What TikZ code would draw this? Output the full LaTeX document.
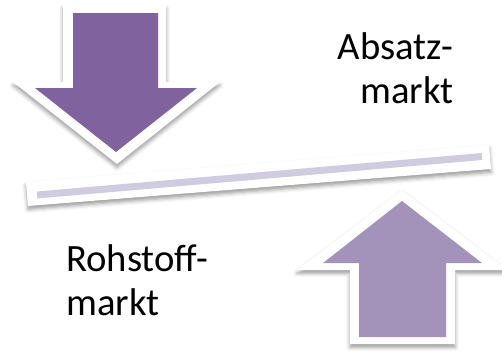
\documentclass[tikz,border=0pt]{standalone}
\usepackage{fontspec}
\setmainfont{Carlito}
\usepackage{tikz}
\usetikzlibrary{shadows.blur}
\definecolor{downviolet}{RGB}{128,99,158}
\definecolor{upviolet}{RGB}{163,147,186}
\definecolor{barviolet}{RGB}{209,203,226}
\tikzset{
	frame/.style={fill=white,blur shadow={shadow xshift=0pt,shadow yshift=-2.5pt,shadow blur radius=3pt,shadow opacity=40}},
	marktlabel/.style={inner sep=0pt,font=\fontsize{29}{33.5}\selectfont}
}

\begin{document}
\begin{tikzpicture}[x=0.75pt,y=-0.75pt]
	\useasboundingbox (0,0) rectangle (502,351);
	% arrow down
	\fill[frame] (63,5) -- (166,5) -- (166,82) -- (220,82) -- (117,164) -- (13,82) -- (63,82) -- cycle;
	\fill[downviolet] (73,13) -- (158,13) -- (158,88) -- (197,88) -- (116,152) -- (35,88) -- (73,88) -- cycle;
	% bar
	\fill[frame] (26,182) -- (489,145) -- (491,169) -- (28,206) -- cycle;
	\draw[barviolet,line width=5.25pt] (37,195) -- (482,156.5);
	% arrow up
	\fill[frame] (402,190) -- (507,270) -- (455,270) -- (455,344) -- (350,344) -- (350,270) -- (297,270) -- cycle;
	\fill[upviolet] (402,201) -- (482,263) -- (446,263) -- (446,337) -- (359,337) -- (359,263) -- (323,263) -- cycle;
	% labels
	\node[marktlabel,align=right,anchor=north east] (absatz) at (454,32) {Absatz-\\markt};
	\node[marktlabel,align=left,anchor=north west] (rohstoff) at (66,244) {Rohstoff-\\markt};
\end{tikzpicture}
\end{document}
